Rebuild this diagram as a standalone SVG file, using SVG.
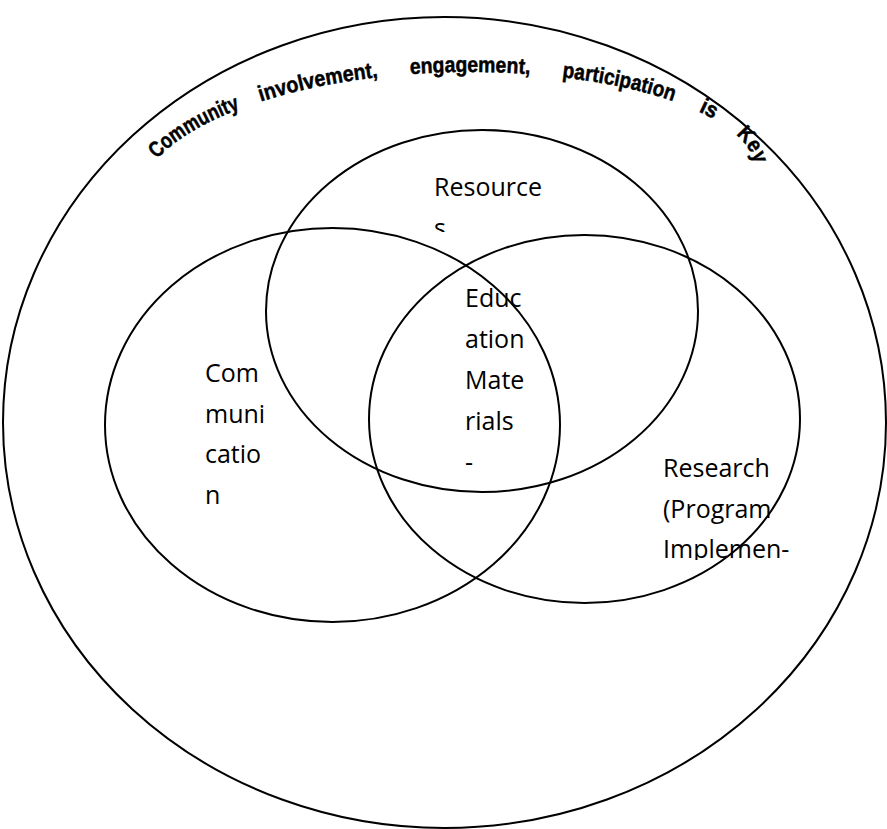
<svg xmlns="http://www.w3.org/2000/svg" width="887" height="829" viewBox="0 0 887 829">
<style>
.c{fill:none;stroke:#000;stroke-width:2}
.lbl{font-family:"Open Sans","Liberation Sans",sans-serif;font-size:25px;fill:#000}
.arc{font-family:"Liberation Sans",Arial,sans-serif;font-weight:bold;font-size:22px;fill:#000;stroke:#000;stroke-width:0.5}
</style>
<defs>
<path id="arcPath" d="M 135 207 A 335 135 0 0 1 470 72 A 285 98 0 0 1 755 170" fill="none"/>
<clipPath id="clipRes"><rect x="420" y="150" width="160" height="82"/></clipPath>
<clipPath id="clipRsch"><rect x="650" y="440" width="160" height="120"/></clipPath>
</defs>
<rect width="887" height="829" fill="#fff"/>
<g id="community">
<ellipse class="c" cx="444.5" cy="422.5" rx="441.5" ry="405.5"/>
<text class="arc"><textPath href="#arcPath" startOffset="54" textLength="98" lengthAdjust="spacingAndGlyphs">Community</textPath></text>
<text class="arc"><textPath href="#arcPath" startOffset="174" textLength="120" lengthAdjust="spacingAndGlyphs">involvement,</textPath></text>
<text class="arc"><textPath href="#arcPath" startOffset="326" textLength="120" lengthAdjust="spacingAndGlyphs">engagement,</textPath></text>
<text class="arc"><textPath href="#arcPath" startOffset="478" textLength="114" lengthAdjust="spacingAndGlyphs">participation</textPath></text>
<text class="arc"><textPath href="#arcPath" startOffset="619" textLength="17" lengthAdjust="spacingAndGlyphs">is</textPath></text>
<text class="arc"><textPath href="#arcPath" startOffset="663" textLength="36" lengthAdjust="spacingAndGlyphs">Key</textPath></text>
</g>
<g id="resources">
<ellipse class="c" cx="482" cy="311" rx="216" ry="181"/>
<g clip-path="url(#clipRes)">
<text class="lbl" x="434" y="196">Resource</text>
<text class="lbl" x="434" y="237">s</text>
</g>
</g>
<g id="communication">
<ellipse class="c" cx="332.5" cy="425" rx="227.5" ry="197"/>
<text class="lbl" x="205" y="382">Com</text>
<text class="lbl" x="205" y="423">muni</text>
<text class="lbl" x="205" y="463">catio</text>
<text class="lbl" x="205" y="504">n</text>
</g>
<g id="research">
<ellipse class="c" cx="584.5" cy="419" rx="215.5" ry="184"/>
<g clip-path="url(#clipRsch)">
<text class="lbl" x="663" y="477">Research</text>
<text class="lbl" x="663" y="518">(Program</text>
<text class="lbl" x="663" y="558">Implemen-</text>
</g>
</g>
<g id="education">
<text class="lbl" x="465" y="307">Educ</text>
<text class="lbl" x="465" y="348">ation</text>
<text class="lbl" x="465" y="389">Mate</text>
<text class="lbl" x="465" y="430">rials</text>
<text class="lbl" x="465" y="471">-</text>
</g>
</svg>
